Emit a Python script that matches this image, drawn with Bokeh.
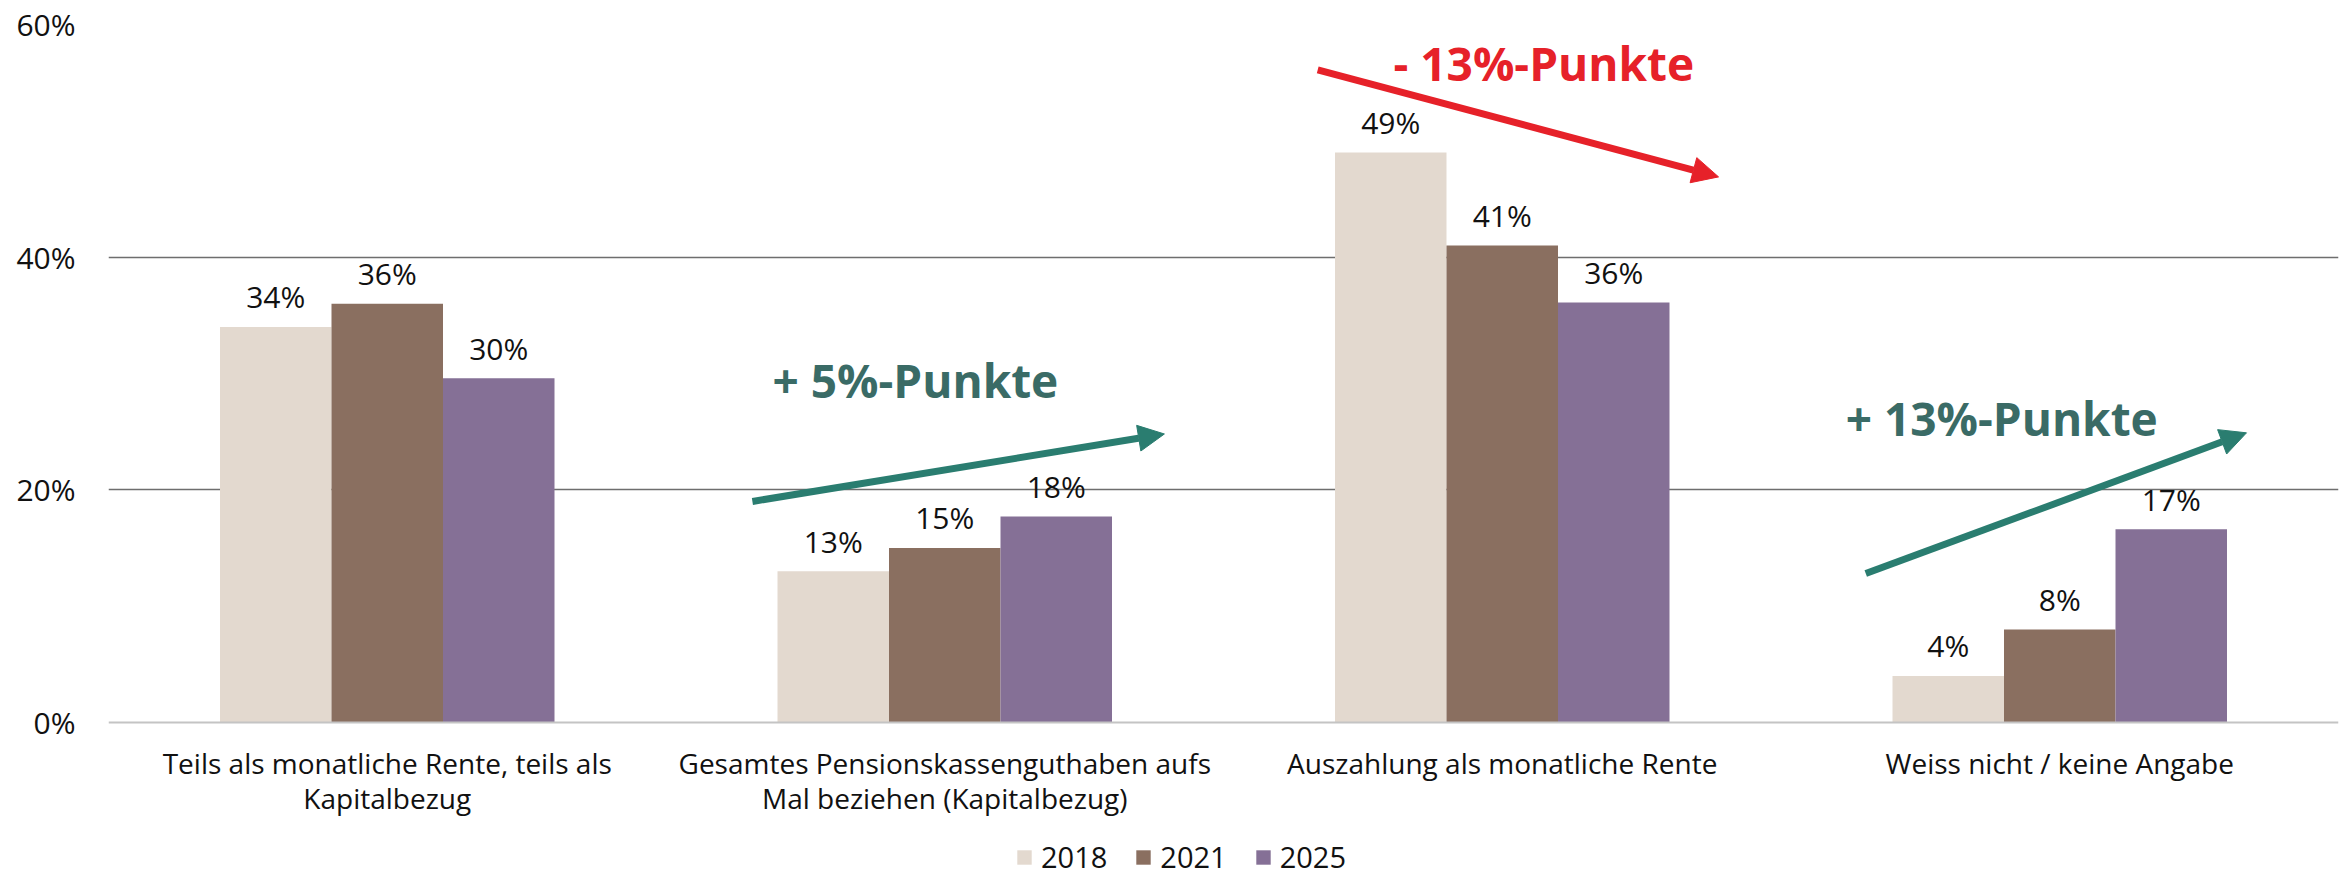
from bokeh.plotting import figure
from bokeh.models import (ColumnDataSource, FactorRange, FixedTicker, PrintfTickFormatter,
                          Legend, LegendItem, Arrow, NormalHead, Label, Span)
from bokeh.core.properties import value
from bokeh.transform import dodge
from bokeh.embed import file_html
from bokeh.resources import INLINE

# ---- data ----
categories = [
    "Teils als monatliche Rente, teils als\nKapitalbezug",
    "Gesamtes Pensionskassenguthaben aufs\nMal beziehen (Kapitalbezug)",
    "Auszahlung als monatliche Rente",
    "Weiss nicht / keine Angabe",
]
years = ["2018", "2021", "2025"]
v2018 = [34, 13, 49, 4]
v2021 = [36, 15, 41, 8]
v2025 = [29.6, 17.7, 36.1, 16.6]
y_ticks = [0, 20, 40, 60]

# change annotations in data units (x in category units, y in %)
changes_text = ["+ 5%-Punkte", "- 13%-Punkte", "+ 13%-Punkte"]
arrow_x0 = [1.155, 2.169, 3.152]
arrow_y0 = [19.0, 56.1, 12.8]
arrow_x1 = [1.894, 2.888, 3.835]
arrow_y1 = [24.8, 46.9, 24.9]
label_x = [1.191, 2.305, 3.116]
label_y = [29.45, 56.65, 26.15]

colors = ["#E3D9CF", "#8A6F60", "#857096"]
arrow_colors = ["#2A7D70", "#E62129", "#2A7D70"]
text_colors = ["#3A6B66", "#E62129", "#3A6B66"]

FONT = "Open Sans"
Y_MIN = -13.24  # room below the baseline for category labels and legend

src = ColumnDataSource(dict(
    cat=categories, zero=[0] * len(categories),
    v2018=v2018, v2021=v2021, v2025=v2025,
    l2018=[f"{round(v)}%" for v in v2018],
    l2021=[f"{round(v)}%" for v in v2021],
    l2025=[f"{round(v)}%" for v in v2025],
))

p = figure(width=2348, height=876, x_range=FactorRange(factors=categories, range_padding=0),
           y_range=(Y_MIN, 60), output_backend="svg", toolbar_location=None,
           min_border_left=108, min_border_right=10, min_border_top=24, min_border_bottom=0)
p.outline_line_color = None
p.background_fill_color = "white"
p.border_fill_color = "white"

offsets = [-0.2, 0.0, 0.2]
renderers = []
for yr, off, col in zip(years, offsets, colors):
    r = p.vbar(x=dodge("cat", off, range=p.x_range), top="v" + yr, bottom=0, width=0.2, source=src,
               fill_color=col, line_color=None)
    renderers.append(r)
    p.text(x=dodge("cat", off, range=p.x_range), y="v" + yr, text="l" + yr, source=src,
           text_align="center", text_baseline="middle", y_offset=-30,
           text_font=value(FONT), text_font_size="30px", text_color="#111111")

# baseline (0%)
p.add_layout(Span(location=0, dimension="width", line_color="#C4C4C4", line_width=2))

# category labels
p.text(x="cat", y="zero", text="cat", source=src, text_align="center", text_baseline="top",
       y_offset=22, text_font=value(FONT), text_font_size="28px", text_color="#111111",
       text_line_height=0.92)

# axes
p.xaxis.visible = False
p.yaxis.ticker = FixedTicker(ticks=y_ticks)
p.yaxis.formatter = PrintfTickFormatter(format="%d%%")
p.yaxis.axis_line_color = None
p.yaxis.major_tick_line_color = None
p.yaxis.minor_tick_line_color = None
p.yaxis.major_label_text_font = FONT
p.yaxis.major_label_text_font_size = "30px"
p.yaxis.major_label_text_color = "#111111"
p.yaxis.major_label_standoff = 27

p.xgrid.grid_line_color = None
p.ygrid.ticker = FixedTicker(ticks=y_ticks[1:])
p.ygrid.grid_line_color = "#6E6E6E"
p.ygrid.grid_line_width = 1.3

# change arrows and labels
for i in range(len(changes_text)):
    p.add_layout(Arrow(x_start=arrow_x0[i], y_start=arrow_y0[i], x_end=arrow_x1[i], y_end=arrow_y1[i],
                       line_color=arrow_colors[i], line_width=7,
                       end=NormalHead(size=26, fill_color=arrow_colors[i], line_color=arrow_colors[i])))
    p.add_layout(Label(x=label_x[i], y=label_y[i], text=changes_text[i], text_font=FONT,
                       text_font_size="46px", text_font_style="bold", text_color=text_colors[i],
                       text_baseline="alphabetic"))

legend = Legend(items=[LegendItem(label=yr, renderers=[r]) for yr, r in zip(years, renderers)],
                orientation="horizontal", location=(907, 0),
                glyph_width=18, glyph_height=18, label_standoff=8, spacing=27,
                label_text_font=FONT, label_text_font_size="29px", label_text_color="#111111",
                border_line_color=None, background_fill_alpha=0, padding=0, margin=0)
p.add_layout(legend, "center")

open("out.html", "w").write(file_html(p, INLINE))
